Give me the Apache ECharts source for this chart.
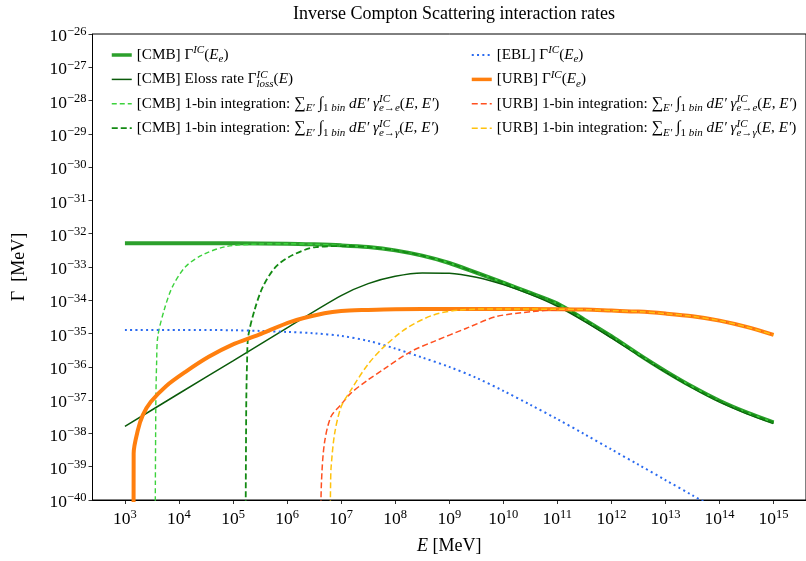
<!DOCTYPE html>
<html><head><meta charset="utf-8">
<script src="https://cdn.jsdelivr.net/npm/echarts@6/dist/echarts.min.js"></script>
<style>html,body{margin:0;padding:0;background:#fff}#c{width:806px;height:561px}</style>
</head><body><div id="c"></div>
<script>
const FONT = '"Liberation Serif", "DejaVu Serif", serif';

// tick values
const xTickValues = [1e3,1e4,1e5,1e6,1e7,1e8,1e9,1e10,1e11,1e12,1e13,1e14,1e15];

// [CMB] Gamma^IC(E_e)
const cmbGammaE = [1e3,1e4,1e5,1e6,3.162e6,1e7,3.162e7,1e8,3.162e8,1e9,3.162e9,1e10,3.162e10,1e11,3.162e11,1e12,3.162e12,1e13,3.162e13,1e14,3.162e14,1e15];
const cmbGammaRate = [5.13e-33,5.13e-33,5.13e-33,5.01e-33,4.79e-33,4.47e-33,3.98e-33,3.16e-33,2.19e-33,1.32e-33,6.76e-34,3.39e-34,1.66e-34,7.94e-35,2.63e-35,8.32e-36,2.40e-36,7.41e-37,2.51e-37,9.55e-38,4.27e-38,2.14e-38];

// [CMB] Eloss rate
const cmbLossE = [1e3,1e4,1e5,1e6,1e7,3.162e7,1e8,3.162e8,1e9,3.162e9,1e10,3.162e10,1e11,3.162e11,1e12,3.162e12,1e13,3.162e13,1e14,3.162e14,1e15];
const cmbLossRate = [1.62e-38,1.585e-37,1.51e-36,1.48e-35,1.38e-34,3.16e-34,5.25e-34,6.61e-34,6.46e-34,4.90e-34,2.95e-34,1.51e-34,6.61e-35,2.34e-35,7.41e-36,2.24e-36,6.92e-37,2.34e-37,8.91e-38,3.98e-38,2.00e-38];

// [CMB] 1-bin e->e
const cmbBinEeE = [3631,3656,3698,3741,3855,4055,5321,7586,13183,26915,72444,295121,1e6,3.162e6,1e7,3.162e7,1e8,3.162e8,1e9,3.162e9,1e10,3.162e10,1e11,3.162e11,1e12,3.162e12,1e13,3.162e13,1e14,3.162e14,1e15];
const cmbBinEeRate = [1e-41,3.16e-40,1e-38,1.26e-37,1.29e-36,8.13e-36,5.13e-35,2.57e-34,1.02e-33,2.29e-33,4.07e-33,4.90e-33,5.01e-33,4.79e-33,4.47e-33,3.98e-33,3.16e-33,2.19e-33,1.32e-33,6.76e-34,3.39e-34,1.66e-34,7.94e-35,2.63e-35,8.32e-36,2.40e-36,7.41e-37,2.51e-37,9.55e-38,4.27e-38,2.14e-38];

// [CMB] 1-bin e->gamma
const cmbBinEgE = [1.710e5,1.722e5,1.742e5,1.762e5,1.816e5,1.910e5,2.506e5,3.573e5,6.209e5,1.268e6,3.412e6,1.390e7,3.162e7,1e8,3.162e8,1e9,3.162e9,1e10,3.162e10,1e11,3.162e11,1e12,3.162e12,1e13,3.162e13,1e14,3.162e14,1e15];
const cmbBinEgRate = [1e-41,3.16e-40,1e-38,1.26e-37,1.29e-36,8.13e-36,5.13e-35,2.57e-34,1.02e-33,2.29e-33,3.98e-33,4.27e-33,3.98e-33,3.16e-33,2.19e-33,1.32e-33,6.76e-34,3.39e-34,1.66e-34,7.94e-35,2.63e-35,8.32e-36,2.40e-36,7.41e-37,2.51e-37,9.55e-38,4.27e-38,2.14e-38];

// [EBL] Gamma^IC(E_e)
const eblE = [1e3,1e4,1e5,3.162e5,1e6,3.162e6,1e7,3.162e7,1e8,3.162e8,1e9,3.162e9,1e10,3.162e10,1e11,3.162e11,1e12,3.162e12,1e13,3.162e13,1e14];
const eblRate = [1.29e-35,1.29e-35,1.26e-35,1.20e-35,1.12e-35,1.02e-35,8.51e-36,6.03e-36,3.55e-36,1.91e-36,1.00e-36,4.68e-37,1.905e-37,7.24e-38,2.69e-38,9.55e-39,3.31e-39,1.15e-39,3.98e-40,1.38e-40,4.79e-41];

// [URB] Gamma^IC(E_e)
const urbE = [1445,1450,1738,2138,3020,5754,13183,35481,95499,295121,1.202e6,4.898e6,1e7,3.162e7,1e8,1e9,1e10,1e11,3.162e11,1e12,3.162e12,1e13,3.162e13,1e14,3.162e14,1e15];
const urbRate = [1e-41,2.51e-39,1.26e-38,3.55e-38,8.91e-38,2.63e-37,7.08e-37,2.00e-36,4.57e-36,9.12e-36,2.29e-35,4.07e-35,4.79e-35,5.13e-35,5.37e-35,5.50e-35,5.50e-35,5.37e-35,5.25e-35,4.90e-35,4.57e-35,3.98e-35,3.31e-35,2.45e-35,1.585e-35,9.12e-36];

// [URB] 1-bin e->e
const urbBinEeE = [4.169e6,4.315e6,4.898e6,6.457e6,9.772e6,1.514e7,3.090e7,6.166e7,1.905e8,5.129e8,2.089e9,7.413e9,3.467e10,9.333e10,3.162e11,1e12,3.162e12,1e13,3.162e13,1e14,3.162e14,1e15];
const urbBinEeRate = [1e-41,3.16e-40,5.01e-39,3.16e-38,7.08e-38,1.62e-37,3.98e-37,8.51e-37,2.82e-36,5.75e-36,1.445e-35,3.24e-35,4.57e-35,5.13e-35,5.25e-35,4.90e-35,4.57e-35,3.98e-35,3.31e-35,2.45e-35,1.585e-35,9.12e-36];

// [URB] 1-bin e->gamma
const urbBinEgE = [6.237e6,6.383e6,6.531e6,7.586e6,1e7,1.514e7,3.090e7,6.166e7,1.622e8,5.129e8,1.585e9,1e10,1e11,3.162e11,1e12,3.162e12,1e13,3.162e13,1e14,3.162e14,1e15];
const urbBinEgRate = [1e-41,3.16e-40,1e-39,1e-38,6.31e-38,2.00e-37,1.15e-36,3.98e-36,1.445e-35,3.63e-35,5.13e-35,5.50e-35,5.37e-35,5.25e-35,4.90e-35,4.57e-35,3.98e-35,3.31e-35,2.45e-35,1.585e-35,9.12e-36];

const seriesNames = [
  '[CMB] Γ^IC(E_e)',
  '[CMB] Eloss rate Γ^IC_loss(E)',
  '[CMB] 1-bin integration e→e',
  '[CMB] 1-bin integration e→γ',
  '[EBL] Γ^IC(E_e)',
  '[URB] Γ^IC(E_e)',
  '[URB] 1-bin integration e→e',
  '[URB] 1-bin integration e→γ'
];

const binPart = (p) => '{n|[' + p + '] 1-bin integration: }{big|∑}{sb|E′}{n| }{big|∫}{sbr|1 }{sb|bin}{i| dE′ γ}{suw|IC}';
const legendText = {};
legendText[seriesNames[0]] = '{n|[CMB] Γ}{su|IC}{n|(}{i|E}{sb|e}{n|)}';
legendText[seriesNames[1]] = '{n|[CMB] Eloss rate Γ}{suw|IC}{sb|loss}{n|(}{i|E}{n|)}';
legendText[seriesNames[2]] = binPart('CMB') + '{sb|e→e}{n|(}{i|E}{n|, }{i|E′}{n|)}';
legendText[seriesNames[3]] = binPart('CMB') + '{sb|e→γ}{n|(}{i|E}{n|, }{i|E′}{n|)}';
legendText[seriesNames[4]] = '{n|[EBL] Γ}{su|IC}{n|(}{i|E}{sb|e}{n|)}';
legendText[seriesNames[5]] = '{n|[URB] Γ}{su|IC}{n|(}{i|E}{sb|e}{n|)}';
legendText[seriesNames[6]] = binPart('URB') + '{sb|e→e}{n|(}{i|E}{n|, }{i|E′}{n|)}';
legendText[seriesNames[7]] = binPart('URB') + '{sb|e→γ}{n|(}{i|E}{n|, }{i|E′}{n|)}';

const LFS = 15.2;
const SFS = 11;
const legendRich = {
  n: {fontFamily: FONT, fontSize: LFS, lineHeight: 20, color: '#000'},
  i: {fontFamily: FONT, fontSize: LFS, fontStyle: 'italic', lineHeight: 20, color: '#000'},
  big: {fontFamily: FONT, fontSize: LFS + 1, lineHeight: 20, color: '#000'},
  su: {fontFamily: FONT, fontSize: SFS, fontStyle: 'italic', lineHeight: 10, verticalAlign: 'top', color: '#000'},
  suw: {fontFamily: FONT, fontSize: SFS, fontStyle: 'italic', lineHeight: 10, verticalAlign: 'top', width: 0, color: '#000'},
  sb: {fontFamily: FONT, fontSize: SFS, fontStyle: 'italic', lineHeight: 12, verticalAlign: 'bottom', color: '#000'},
  sbr: {fontFamily: FONT, fontSize: SFS, lineHeight: 12, verticalAlign: 'bottom', color: '#000'}
};

// y axis is drawn in decades (log10 of the rate)
const pairs = (xs, ys) => xs.map((x, i) => [x, Math.log10(ys[i])]);

const styles = [
  {color: '#2ca02c', width: 4, type: 'solid'},
  {color: '#0a5a0a', width: 1.5, type: 'solid'},
  {color: '#3cd23c', width: 1.4, type: [5, 3]},
  {color: '#138a13', width: 1.8, type: [6, 3]},
  {color: '#2a6af0', width: 2, type: [2, 3.3]},
  {color: '#ff7f0e', width: 4, type: 'solid'},
  {color: '#ff5020', width: 1.5, type: [6, 3]},
  {color: '#ffc20e', width: 1.5, type: [6, 3]}
];
const dataSets = [
  pairs(cmbGammaE, cmbGammaRate),
  pairs(cmbLossE, cmbLossRate),
  pairs(cmbBinEeE, cmbBinEeRate),
  pairs(cmbBinEgE, cmbBinEgRate),
  pairs(eblE, eblRate),
  pairs(urbE, urbRate),
  pairs(urbBinEeE, urbBinEeRate),
  pairs(urbBinEgE, urbBinEgRate)
];

const series = dataSets.map((d, k) => ({
  type: 'line',
  name: seriesNames[k],
  data: d,
  symbol: 'none',
  showSymbol: false,
  clip: true,
  smooth: 0.3,
  lineStyle: {color: styles[k].color, width: styles[k].width, type: styles[k].type, cap: 'butt'},
  itemStyle: {color: styles[k].color},
  emphasis: {disabled: true}
}));

const legendItems = (from, to) => seriesNames.slice(from, to).map((name, j) => ({
  name: name,
  lineStyle: {width: Math.min(styles[from + j].width, 3.5), color: styles[from + j].color, type: styles[from + j].type}
}));

const legendBase = {
  orient: 'vertical',
  padding: 0,
  itemWidth: 20,
  itemHeight: 10,
  itemGap: 4.4,
  itemStyle: {opacity: 0},
  selectedMode: false,
  formatter: (name) => legendText[name],
  textStyle: {fontFamily: FONT, fontSize: LFS, color: '#000', rich: legendRich}
};

const supLabel = (e) => '{b|10}{s|' + String(Math.round(e)).replace('-', '−') + '}';
const tickRich = {
  b: {fontFamily: FONT, fontSize: 17.5, lineHeight: 22, color: '#000'},
  s: {fontFamily: FONT, fontSize: 12.5, lineHeight: 12, verticalAlign: 'top', color: '#000'}
};

const chart = echarts.init(document.getElementById('c'), null, {renderer: 'canvas'});
chart.setOption({
  animation: false,
  backgroundColor: '#fff',
  title: {
    text: 'Inverse Compton Scattering interaction rates',
    left: 449, textAlign: 'center', top: 0,
    textStyle: {fontFamily: FONT, fontSize: 18, fontWeight: 'normal', color: '#000'}
  },
  legend: [
    Object.assign({}, legendBase, {left: 110, top: 45, data: legendItems(0, 4)}),
    Object.assign({}, legendBase, {left: 470, top: 45, data: legendItems(4, 8)})
  ],
  grid: {left: 92.5, top: 34, bottom: 61, right: -7.2, show: true, borderColor: '#000', borderWidth: 1, containLabel: false},
  xAxis: {
    type: 'log', logBase: 10,
    min: Math.pow(10, 2.4), max: Math.pow(10, 15.6),
    name: '{i|E} [MeV]', nameLocation: 'middle', nameGap: 37,
    nameTextStyle: {fontFamily: FONT, fontSize: 18, color: '#000',
      rich: {i: {fontFamily: FONT, fontSize: 18, fontStyle: 'italic', color: '#000'}}},
    axisLine: {show: true, lineStyle: {color: '#000', width: 1}},
    axisTick: {show: true, length: 4, inside: false, customValues: xTickValues, lineStyle: {color: '#000', width: 0.8}},
    minorTick: {show: false},
    splitLine: {show: false},
    axisLabel: {customValues: xTickValues, formatter: (v) => supLabel(Math.log10(v)), rich: tickRich, margin: 8, color: '#000'}
  },
  yAxis: {
    type: 'value',
    min: -40, max: -26, interval: 1,
    name: 'Γ  [MeV]', nameLocation: 'middle', nameGap: 64,
    nameTextStyle: {fontFamily: FONT, fontSize: 18, color: '#000'},
    axisLine: {show: true, lineStyle: {color: '#000', width: 1}},
    axisTick: {show: true, length: 4, inside: false, lineStyle: {color: '#000', width: 0.8}},
    minorTick: {show: false},
    splitLine: {show: false},
    axisLabel: {formatter: (v) => supLabel(v), rich: tickRich, margin: 6, padding: [5, 0, 0, 0], color: '#000'}
  },
  series: series
});
</script>
</body></html>
